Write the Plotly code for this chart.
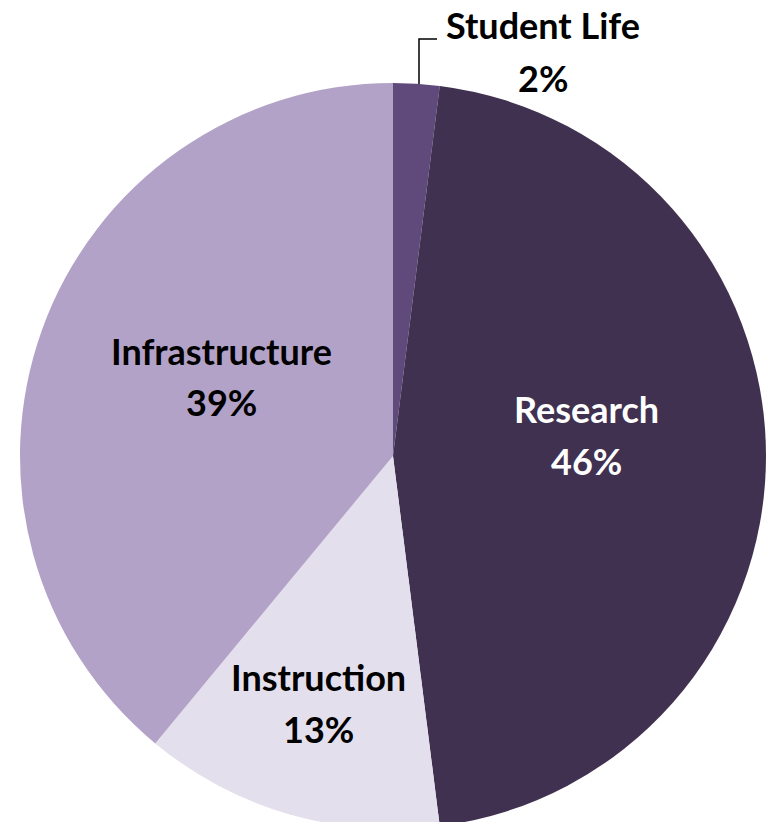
import plotly.graph_objects as go

# Budget shares by area
categories = ["Student Life", "Research", "Instruction", "Infrastructure"]
shares = [2, 46, 13, 39]
colors = ["#604a7b", "#403151", "#e4dfec", "#b3a2c7"]
text_colors = ["#000000", "#ffffff", "#000000", "#000000"]

W, H = 769, 832
CX, CY, R = 393, 456, 373  # pie centre and radius in pixels

# Label anchor (pixel x, y of the name line, y of the percent line)
label_pos = {
    "Student Life": (543, 25, 78),
    "Research": (586, 409, 461),
    "Instruction": (318, 677, 729),
    "Infrastructure": (222, 351, 402),
}
FONT = "Lato, 'Open Sans', sans-serif"
FONT_SIZE = 36


def px_to_paper(x, y):
    return x / W, 1 - y / H


fig = go.Figure(
    go.Pie(
        labels=categories,
        values=shares,
        sort=False,
        direction="clockwise",
        rotation=0,
        marker=dict(colors=colors, line=dict(width=0)),
        textinfo="none",
        hoverinfo="label+percent",
        showlegend=False,
        domain=dict(
            x=[(CX - R) / W, (CX + R) / W],
            y=[1 - (CY + R) / H, 1 - (CY - R) / H],
        ),
    )
)

total = sum(shares)
annotations = []
for name, val, tcol in zip(categories, shares, text_colors):
    pct = round(val / total * 100)
    x, y_name, y_pct = label_pos[name]
    for txt, yy in ((name, y_name), (f"{pct}%", y_pct)):
        xp, yp = px_to_paper(x, yy)
        annotations.append(dict(
            x=xp, y=yp, xref="paper", yref="paper", text=f"<b>{txt}</b>",
            showarrow=False, font=dict(family=FONT, size=FONT_SIZE, color=tcol),
            xanchor="center", yanchor="middle",
        ))

# Leader line from the thin Student Life slice up to its label
x0, y0 = px_to_paper(419, 84)
x1, y1 = px_to_paper(419, 39)
x2, y2 = px_to_paper(437, 39)
shapes = [dict(type="path", xref="paper", yref="paper",
               path=f"M {x0},{y0} L {x1},{y1} L {x2},{y2}",
               line=dict(color="#000000", width=1.5))]

fig.update_layout(
    width=W, height=H,
    margin=dict(l=0, r=0, t=0, b=0),
    paper_bgcolor="#ffffff",
    plot_bgcolor="#ffffff",
    annotations=annotations,
    shapes=shapes,
)

fig.write_html(
    "out.html",
    post_script="document.body.style.margin='0';document.body.style.overflow='hidden';"
                "document.documentElement.style.overflow='hidden';",
)
